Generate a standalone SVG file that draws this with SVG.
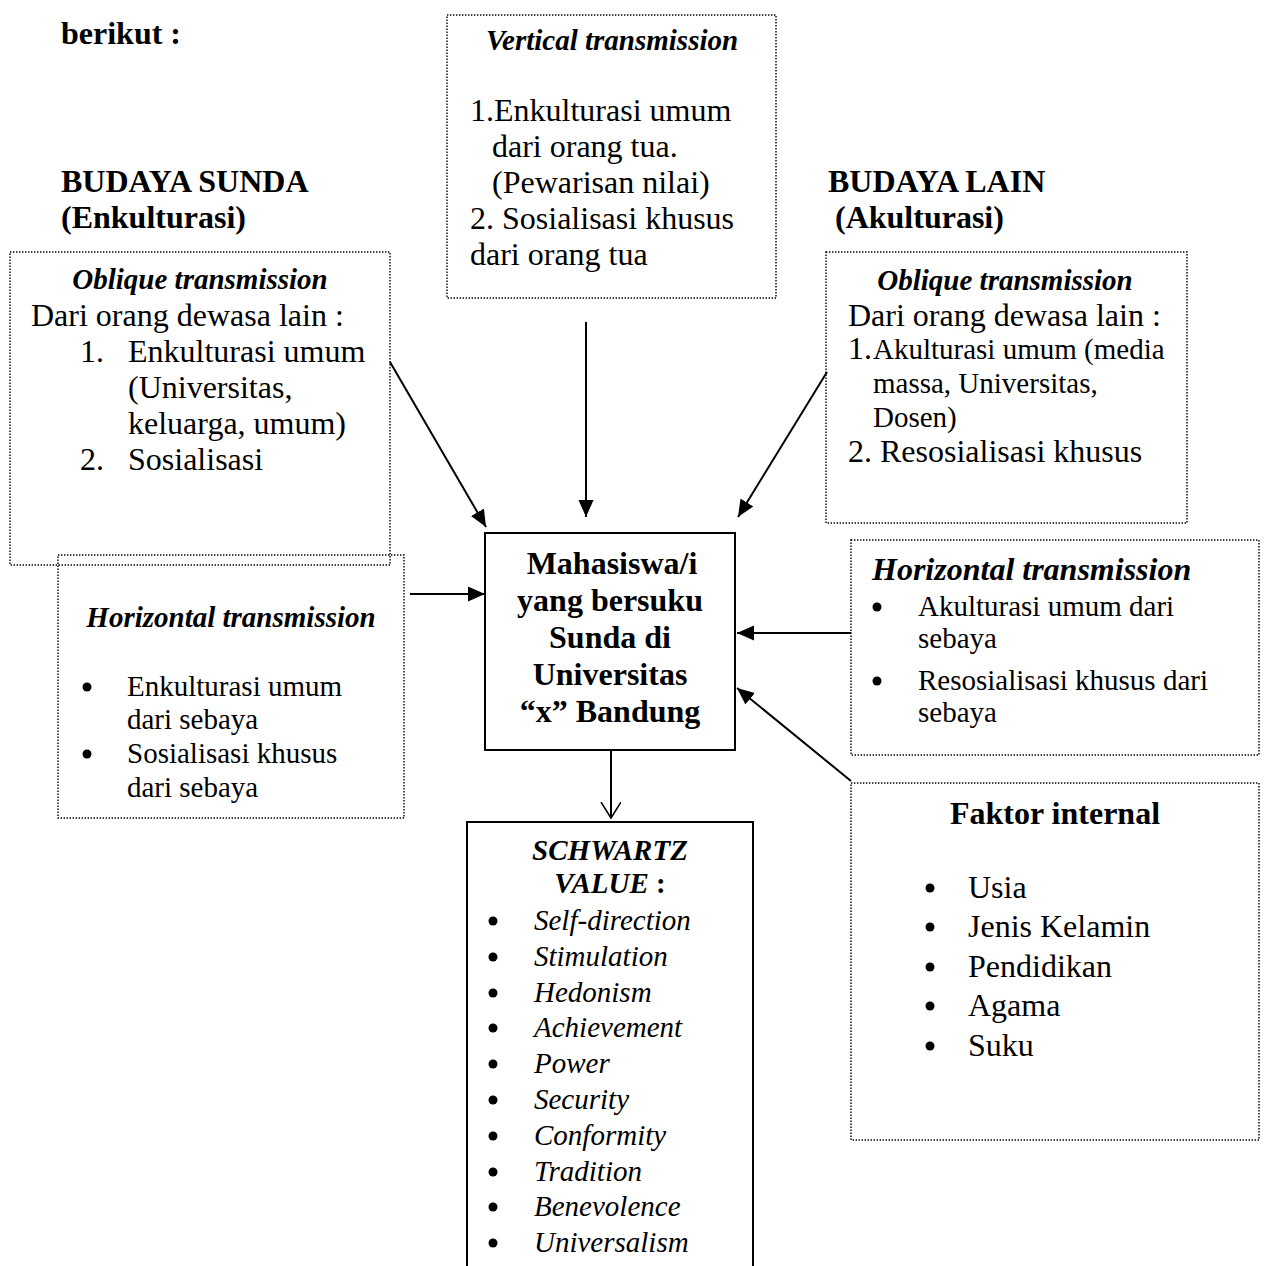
<svg xmlns="http://www.w3.org/2000/svg" width="1267" height="1266" viewBox="0 0 1267 1266">
<defs>
<style>
text{font-family:"Liberation Serif","Times New Roman",serif;fill:#000}
.b{font-weight:bold}
.i{font-style:italic}
.f32{font-size:32px}
.f29{font-size:29px}
.c{text-anchor:middle}
.dot{fill:none;stroke:#000;stroke-width:1.4;stroke-dasharray:1.4 1.6}
.solid{fill:none;stroke:#000;stroke-width:2}
.con{stroke:#000;stroke-width:2;fill:none}
</style>
<marker id="ah" markerUnits="userSpaceOnUse" markerWidth="20" markerHeight="16" refX="17" refY="7.5" orient="auto">
<path d="M0,0 L17,7.5 L0,15 z" fill="#000"/>
</marker>
<marker id="av" markerUnits="userSpaceOnUse" markerWidth="18" markerHeight="22" refX="16" refY="10" orient="auto">
<path d="M0,0 L16,10 L0,20" fill="none" stroke="#000" stroke-width="1.5"/>
</marker>
</defs>
<rect width="1267" height="1266" fill="#fff"/>

<g id="header">
<text class="b f32" x="61" y="44">berikut :</text>
<text class="b f32" x="61" y="192">BUDAYA SUNDA</text>
<text class="b f32" x="61" y="228">(Enkulturasi)</text>
<text class="b f32" x="828" y="192">BUDAYA LAIN</text>
<text class="b f32" x="835" y="228">(Akulturasi)</text>
</g>

<g id="vertical">
<rect class="dot" x="447" y="15" width="329" height="283"/>
<text class="b i f29 c" x="612" y="50">Vertical transmission</text>
<text class="f32" x="470" y="121">1.Enkulturasi umum</text>
<text class="f32" x="492" y="157">dari orang tua.</text>
<text class="f32" x="492" y="193">(Pewarisan nilai)</text>
<text class="f32" x="470" y="229">2. Sosialisasi khusus</text>
<text class="f32" x="470" y="265">dari orang tua</text>
</g>

<g id="oblique-left">
<rect class="dot" x="10" y="252" width="380" height="313"/>
<text class="b i f29 c" x="200" y="289">Oblique transmission</text>
<text class="f32" x="31" y="326">Dari orang dewasa lain :</text>
<text class="f32" x="80" y="362">1.</text>
<text class="f32" x="128" y="362">Enkulturasi umum</text>
<text class="f32" x="128" y="398">(Universitas,</text>
<text class="f32" x="128" y="434">keluarga, umum)</text>
<text class="f32" x="80" y="470">2.</text>
<text class="f32" x="128" y="470">Sosialisasi</text>
</g>

<g id="oblique-right">
<rect class="dot" x="826" y="252" width="361" height="271"/>
<text class="b i f29 c" x="1005" y="290">Oblique transmission</text>
<text class="f32" x="848" y="326">Dari orang dewasa lain :</text>
<text class="f32" x="848" y="359">1.</text>
<text class="f29" x="873" y="359">Akulturasi umum (media</text>
<text class="f29" x="873" y="393">massa, Universitas,</text>
<text class="f29" x="873" y="427">Dosen)</text>
<text class="f32" x="848" y="462">2. Resosialisasi khusus</text>
</g>

<g id="horizontal-left">
<rect class="dot" x="58" y="555" width="346" height="263"/>
<text class="b i f29 c" x="231" y="627">Horizontal transmission</text>
<circle cx="87" cy="687" r="4.5"/>
<text class="f29" x="127" y="696">Enkulturasi umum</text>
<text class="f29" x="127" y="729">dari sebaya</text>
<circle cx="87" cy="754" r="4.5"/>
<text class="f29" x="127" y="763">Sosialisasi khusus</text>
<text class="f29" x="127" y="797">dari sebaya</text>
</g>

<g id="horizontal-right">
<rect class="dot" x="851" y="540" width="408" height="215"/>
<text class="b i f32" x="872" y="580">Horizontal transmission</text>
<circle cx="877" cy="607" r="4.5"/>
<text class="f29" x="918" y="616">Akulturasi umum dari</text>
<text class="f29" x="918" y="648">sebaya</text>
<circle cx="877" cy="681" r="4.5"/>
<text class="f29" x="918" y="690">Resosialisasi khusus dari</text>
<text class="f29" x="918" y="722">sebaya</text>
</g>

<g id="center">
<rect class="solid" x="485" y="533" width="250" height="217"/>
<text class="b f32 c" x="612" y="574">Mahasiswa/i</text>
<text class="b f32 c" x="610" y="611">yang bersuku</text>
<text class="b f32 c" x="610" y="648">Sunda di</text>
<text class="b f32 c" x="610" y="685">Universitas</text>
<text class="b f32 c" x="610" y="722">“x” Bandung</text>
</g>

<g id="faktor">
<rect class="dot" x="851" y="783" width="408" height="357"/>
<text class="b f32 c" x="1055" y="824">Faktor internal</text>
<circle cx="930" cy="888" r="4.5"/>
<text class="f32" x="968" y="898">Usia</text>
<circle cx="930" cy="927" r="4.5"/>
<text class="f32" x="968" y="937">Jenis Kelamin</text>
<circle cx="930" cy="967" r="4.5"/>
<text class="f32" x="968" y="977">Pendidikan</text>
<circle cx="930" cy="1006" r="4.5"/>
<text class="f32" x="968" y="1016">Agama</text>
<circle cx="930" cy="1046" r="4.5"/>
<text class="f32" x="968" y="1056">Suku</text>
</g>

<g id="schwartz">
<path class="solid" d="M467,1270 V822 H753 V1270"/>
<text class="b i f29 c" x="610" y="860">SCHWARTZ</text>
<text class="b f29 c" x="610" y="893"><tspan class="i">VALUE</tspan> :</text>
<g class="i f29">
<text x="534" y="930">Self-direction</text>
<text x="534" y="966">Stimulation</text>
<text x="534" y="1002">Hedonism</text>
<text x="534" y="1037">Achievement</text>
<text x="534" y="1073">Power</text>
<text x="534" y="1109">Security</text>
<text x="534" y="1145">Conformity</text>
<text x="534" y="1181">Tradition</text>
<text x="534" y="1216">Benevolence</text>
<text x="534" y="1252">Universalism</text>
</g>
<g fill="#000">
<circle cx="493" cy="921" r="4.5"/>
<circle cx="493" cy="957" r="4.5"/>
<circle cx="493" cy="993" r="4.5"/>
<circle cx="493" cy="1028" r="4.5"/>
<circle cx="493" cy="1064" r="4.5"/>
<circle cx="493" cy="1100" r="4.5"/>
<circle cx="493" cy="1136" r="4.5"/>
<circle cx="493" cy="1172" r="4.5"/>
<circle cx="493" cy="1207" r="4.5"/>
<circle cx="493" cy="1243" r="4.5"/>
</g>
</g>

<g id="connectors">
<line class="con" x1="390" y1="362" x2="486" y2="527" marker-end="url(#ah)"/>
<line class="con" x1="586" y1="322" x2="586" y2="517" marker-end="url(#ah)"/>
<line class="con" x1="827" y1="372" x2="738" y2="517" marker-end="url(#ah)"/>
<line class="con" x1="410" y1="594" x2="485" y2="594" marker-end="url(#ah)"/>
<line class="con" x1="851" y1="633" x2="737" y2="633" marker-end="url(#ah)"/>
<line class="con" x1="851" y1="781" x2="737" y2="688" marker-end="url(#ah)"/>
<line class="con" x1="611" y1="750" x2="611" y2="818" marker-end="url(#av)"/>
</g>
</svg>
